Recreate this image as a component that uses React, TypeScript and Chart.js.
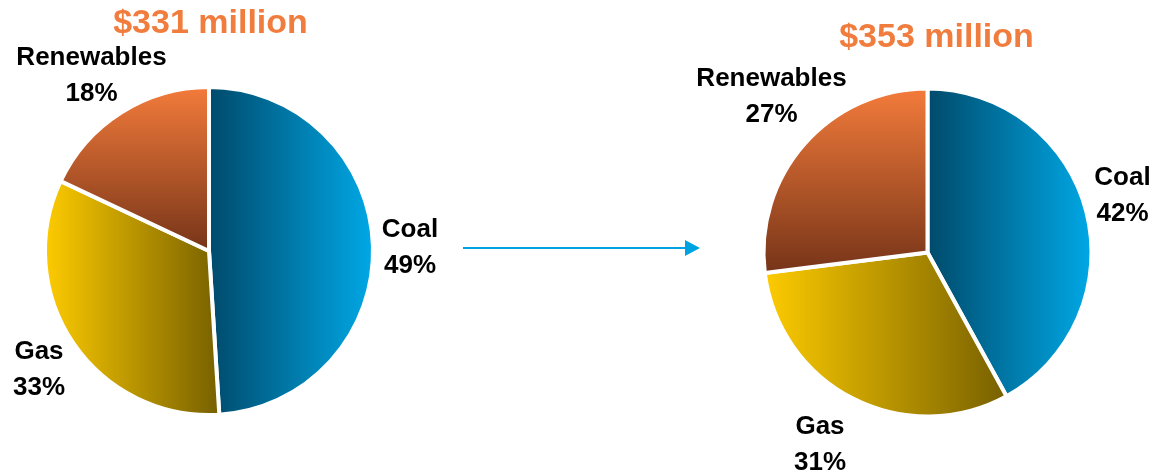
import React, { useEffect, useRef } from "react";
import { Chart, registerables } from "chart.js";

Chart.register(...registerables);

// ---- data ----
const categories = ["Coal", "Gas", "Renewables"];
const sharesBefore = [49, 33, 18];
const sharesAfter = [42, 31, 27];
const totalBefore = "$331 million";
const totalAfter = "$353 million";

// ---- styles ----
const FONT = "'Liberation Sans', Arial, Helvetica, sans-serif";
const TITLE_COLOR = "#F07D3E";
const ARROW_COLOR = "#00A3E0";
const RADIUS = 164;
// gradient stops per category: [start, end], direction
const GRADIENTS = [
  { dir: "h", stops: ["#004A6B", "#00A8E6"] }, // Coal
  { dir: "h", stops: ["#FDCB00", "#776000"] }, // Gas
  { dir: "v", stops: ["#F37B3B", "#763418"] }, // Renewables
];
const FALLBACK = ["#0078A8", "#C0A000", "#B85A2A"];

function arcBounds(cx: number, cy: number, r: number, a0: number, a1: number) {
  const pts: [number, number][] = [[cx, cy]];
  pts.push([cx + r * Math.cos(a0), cy + r * Math.sin(a0)]);
  pts.push([cx + r * Math.cos(a1), cy + r * Math.sin(a1)]);
  for (let k = -4; k <= 8; k++) {
    const a = (k * Math.PI) / 2;
    if (a > a0 && a < a1) pts.push([cx + r * Math.cos(a), cy + r * Math.sin(a)]);
  }
  const xs = pts.map((p) => p[0]);
  const ys = pts.map((p) => p[1]);
  return { x0: Math.min(...xs), x1: Math.max(...xs), y0: Math.min(...ys), y1: Math.max(...ys) };
}

function sliceFill(ctx: any) {
  const chart = ctx.chart;
  const area = chart.chartArea;
  const i = ctx.dataIndex;
  if (!area || i === undefined) return FALLBACK[i || 0];
  const data: number[] = chart.data.datasets[0].data;
  const total = data.reduce((s, v) => s + v, 0);
  let before = 0;
  for (let k = 0; k < i; k++) before += data[k];
  const a0 = -Math.PI / 2 + (before / total) * Math.PI * 2;
  const a1 = a0 + (data[i] / total) * Math.PI * 2;
  const cx = (area.left + area.right) / 2;
  const cy = (area.top + area.bottom) / 2;
  const b = arcBounds(cx, cy, RADIUS, a0, a1);
  const g = GRADIENTS[i];
  const grad =
    g.dir === "h"
      ? chart.ctx.createLinearGradient(b.x0, 0, b.x1, 0)
      : chart.ctx.createLinearGradient(0, b.y0, 0, b.y1);
  grad.addColorStop(0, g.stops[0]);
  grad.addColorStop(1, g.stops[1]);
  return grad;
}

const annotatePlugin = {
  id: "annotate",
  afterDraw(chart: any, _args: any, opts: any) {
    const { ctx, chartArea } = chart;
    const cx = (chartArea.left + chartArea.right) / 2;
    const cy = (chartArea.top + chartArea.bottom) / 2;
    ctx.save();
    ctx.textAlign = "center";
    ctx.textBaseline = "middle";
    // title
    ctx.fillStyle = TITLE_COLOR;
    ctx.font = `bold 34px ${FONT}`;
    ctx.fillText(opts.title, cx + opts.titleDx, opts.titleY);
    // slice labels
    ctx.fillStyle = "#000000";
    ctx.font = `bold 26px ${FONT}`;
    const data: number[] = chart.data.datasets[0].data;
    chart.data.labels.forEach((lab: string, i: number) => {
      const [dx, dy] = opts.labelOffsets[i];
      ctx.fillText(lab, cx + dx, cy + dy - 18);
      ctx.fillText(`${data[i]}%`, cx + dx, cy + dy + 18);
    });
    // arrow
    if (opts.arrow) {
      const [x0, y, x1] = opts.arrow;
      ctx.strokeStyle = ARROW_COLOR;
      ctx.fillStyle = ARROW_COLOR;
      ctx.lineWidth = 2;
      ctx.beginPath();
      ctx.moveTo(x0, y);
      ctx.lineTo(x1 - 14, y);
      ctx.stroke();
      ctx.beginPath();
      ctx.moveTo(x1, y);
      ctx.lineTo(x1 - 15, y - 8);
      ctx.lineTo(x1 - 15, y + 8);
      ctx.closePath();
      ctx.fill();
    }
    ctx.restore();
  },
};

type PieProps = {
  values: number[];
  left: number;
  width: number;
  padding: { left: number; right: number; top: number; bottom: number };
  annotate: any;
};

function Pie({ values, left, width, padding, annotate }: PieProps) {
  const ref = useRef<HTMLCanvasElement>(null);
  useEffect(() => {
    if (!ref.current) return;
    const chart = new Chart(ref.current, {
      type: "pie",
      data: {
        labels: categories,
        datasets: [
          {
            data: values,
            backgroundColor: sliceFill as any,
            borderColor: "#FFFFFF",
            borderWidth: 4,
          },
        ],
      },
      options: {
        responsive: false,
        animation: false,
        radius: RADIUS,
        layout: { padding },
        plugins: {
          legend: { display: false },
          tooltip: { enabled: false },
          annotate,
        } as any,
      } as any,
      plugins: [annotatePlugin],
    });
    return () => chart.destroy();
  }, []);
  return (
    <canvas
      ref={ref}
      width={width}
      height={475}
      style={{ position: "absolute", left, top: 0, width, height: 475 }}
    />
  );
}

export default function App() {
  return (
    <div
      style={{
        position: "fixed",
        left: 0,
        top: 0,
        width: 1157,
        height: 475,
        background: "#FFFFFF",
        overflow: "hidden",
      }}
    >
      <Pie
        values={sharesBefore}
        left={0}
        width={720}
        padding={{ left: 0, right: 302, top: 27, bottom: 0 }}
        annotate={{
          title: totalBefore,
          titleDx: 1.5,
          titleY: 24,
          labelOffsets: [
            [201, -3],
            [-170, 119],
            [-117.5, -175],
          ],
          arrow: [463, 248, 700],
        }}
      />
      <Pie
        values={sharesAfter}
        left={580}
        width={577}
        padding={{ left: 118, right: 0, top: 30, bottom: 0 }}
        annotate={{
          title: totalAfter,
          titleDx: 9,
          titleY: 38,
          labelOffsets: [
            [195, -57],
            [-107.5, 192.5],
            [-156, -155.5],
          ],
          arrow: null,
        }}
      />
    </div>
  );
}
